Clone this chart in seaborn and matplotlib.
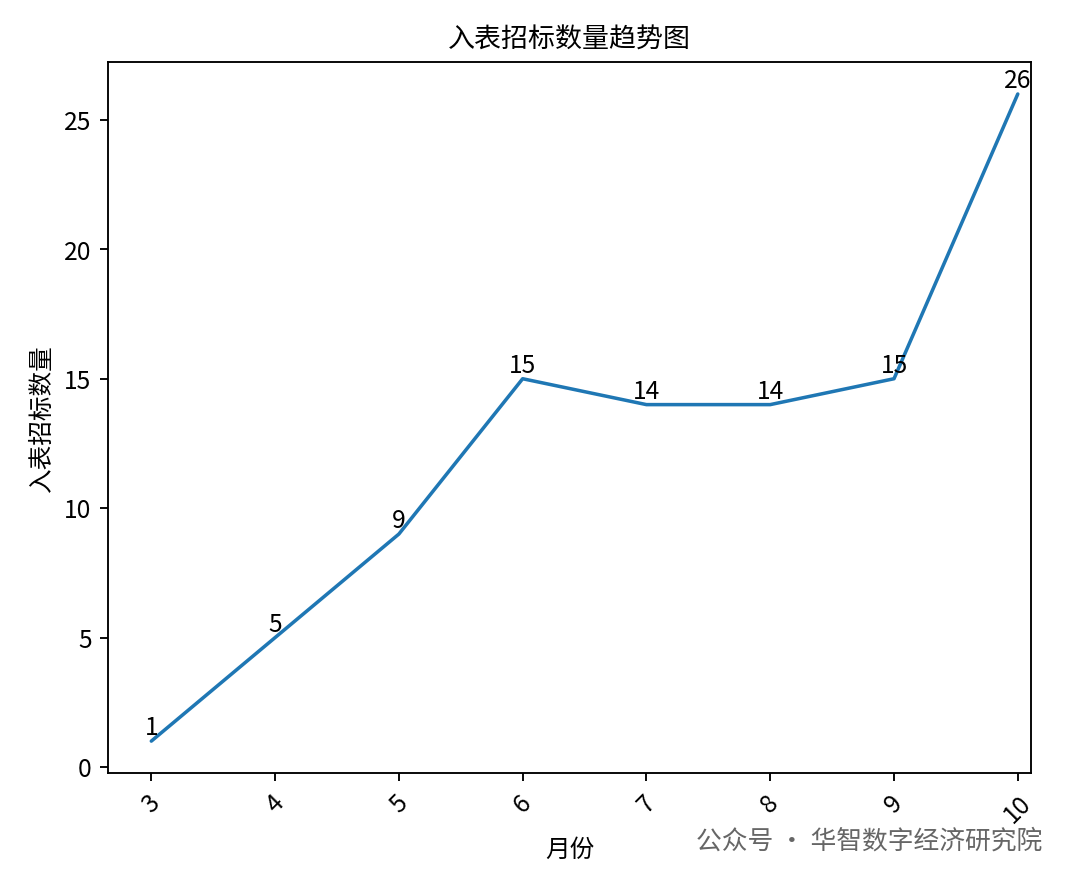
import matplotlib
matplotlib.use("Agg")
import matplotlib.pyplot as plt
import seaborn as sns
import pandas as pd

# data
months = [3, 4, 5, 6, 7, 8, 9, 10]
counts = [1, 5, 9, 15, 14, 14, 15, 26]

sns.set_style("ticks")
plt.rcParams['font.family'] = ['Noto Sans CJK SC', 'DejaVu Sans']
plt.rcParams['font.size'] = 10.5
for k in ["text.color", "axes.labelcolor", "xtick.color", "ytick.color", "axes.edgecolor"]:
    plt.rcParams[k] = "black"

df = pd.DataFrame({"月份": months, "入表招标数量": counts})

fig, ax = plt.subplots(figsize=(6.4, 5.24), dpi=168.75)
sns.lineplot(data=df, x="月份", y="入表招标数量", ax=ax, color="#1f77b4")

for m, c in zip(months, counts):
    ax.text(m, c, str(c), ha="center", va="bottom", fontsize=10.5)

ax.set_xticks(months)
ax.set_xlim(2.65, 10.11)
ax.tick_params(axis="x", rotation=45)
ax.set_title("入表招标数量趋势图", fontsize=11.5)

# watermark
fig.text(0.965, 0.048, "公众号 · 华智数字经济研究院", ha="right", va="center",
         fontsize=11, color="#666666")

fig.subplots_adjust(left=0.1, right=0.955, top=0.93, bottom=0.125)
fig.savefig("out.png")
